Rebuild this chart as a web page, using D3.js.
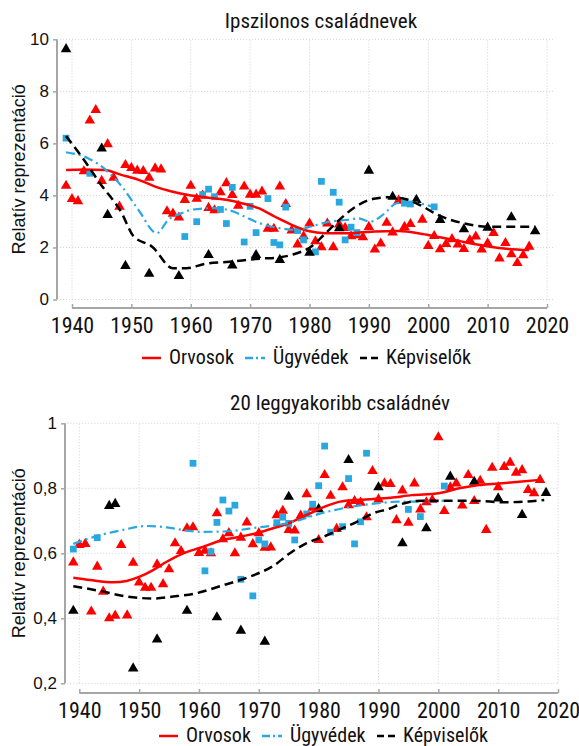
<!DOCTYPE html>
<html>
<head>
<meta charset="utf-8">
<script src="https://cdn.jsdelivr.net/npm/d3@7"></script>
<style>
  html, body { margin: 0; padding: 0; background: #fff; }
  .narrow { font-family: 'Liberation Sans Narrow', 'Arial Narrow', 'Roboto Condensed', sans-serif; }
  .wide { font-family: 'Liberation Sans', Arial, sans-serif; }
</style>
</head>
<body>
<div id="chart"></div>
<script>
// ---- data: Ipszilonos családnevek ----
const orvYearsTop = [1939,1940,1941,1942,1943,1944,1945,1946,1947,1948,1949,1950,1951,1952,1953,1954,1955,1956,1957,1958,1959,1960,1961,1962,1963,1964,1965,1966,1967,1968,1969,1970,1971,1972,1973,1974,1975,1976,1977,1978,1979,1980,1981,1982,1983,1984,1985,1986,1987,1988,1989,1990,1991,1992,1993,1994,1995,1996,1997,1999,2000,2001,2002,2003,2004,2005,2006,2007,2008,2009,2010,2011,2012,2013,2014,2015,2016,2017];
const orvValsTop = [4.37,3.86,3.78,4.93,6.88,7.28,4.56,5.97,4.68,3.57,5.17,5.06,4.95,4.94,4.68,5.04,5.00,3.39,3.30,3.15,3.83,4.37,3.87,3.99,3.52,3.43,4.12,4.47,4.02,3.60,4.34,4.03,4.03,4.15,2.72,2.72,4.34,3.67,2.65,2.12,2.43,2.92,2.24,2.01,2.92,2.01,2.88,2.75,2.43,2.47,2.39,2.79,1.92,2.15,2.95,2.58,3.80,2.79,2.90,3.07,2.06,2.44,1.93,2.13,2.32,2.12,1.94,2.28,2.42,1.92,2.16,2.56,1.58,2.17,1.74,1.40,1.70,2.03];

const ugyYearsTop = [1939,1943,1959,1961,1962,1963,1964,1965,1966,1967,1969,1970,1971,1973,1974,1975,1976,1978,1979,1981,1982,1984,1985,1986,1987,1988,1996,1997,2001];
const ugyValsTop = [6.20,4.85,2.42,2.99,4.03,4.24,3.95,3.46,2.92,4.31,2.21,3.58,2.57,3.88,2.19,2.10,3.55,2.65,2.29,1.83,4.54,4.12,3.74,2.29,2.78,2.57,3.70,3.67,3.56];

const kepYearsTop = [1939,1945,1946,1949,1953,1958,1963,1967,1971,1975,1980,1985,1990,1994,1998,2002,2006,2010,2014,2018];
const kepValsTop = [9.62,5.80,3.25,1.29,0.99,0.90,1.71,1.31,1.71,1.52,1.80,2.74,4.95,3.95,3.83,3.06,2.70,2.76,3.16,2.62];

// smoothed curves
const orvFitYearsTop = [1939,1942,1945.5,1948.3,1951.2,1954,1956.8,1959.6,1962.4,1966,1968.6,1971.4,1974.2,1977,1979.8,1982.6,1985.4,1988.2,1991,1995,1999,2002,2005,2008,2010.4,2013.2,2017];
const orvFitValsTop = [4.98,5.00,4.98,4.79,4.60,4.34,4.15,4.02,3.93,3.83,3.70,3.51,3.18,2.87,2.63,2.55,2.55,2.57,2.61,2.63,2.52,2.39,2.26,2.12,2.03,1.95,1.90];
const ugyFitYearsTop = [1939,1942.7,1946,1948.4,1951.2,1954.3,1956.2,1958.3,1960.4,1963.8,1967.2,1969.1,1971.6,1975,1977.8,1980.6,1983.4,1986.8,1988.2,1990.2,1992.5,1994.7,1997.5,1999.7,2001];
const ugyFitValsTop = [5.66,5.43,4.92,4.34,3.44,2.55,3.06,3.30,3.46,3.51,3.38,3.18,2.93,2.74,2.67,2.83,2.99,3.07,3.12,2.99,3.28,3.70,3.74,3.63,3.56];
const kepFitYearsTop = [1939,1942,1944.7,1948.4,1950.3,1953.5,1957,1959.3,1962.4,1966.5,1971.5,1975,1977.5,1980,1982.5,1985.2,1988,1990.8,1993.6,1996.3,1998.6,2002,2005.9,2009.8,2014.3,2018];
const kepFitValsTop = [6.28,5.37,4.47,3.31,2.45,2.03,1.20,1.20,1.37,1.45,1.57,1.62,1.75,1.99,2.50,3.10,3.60,3.87,3.93,3.85,3.63,3.21,2.93,2.80,2.80,2.80];

// ---- data: 20 leggyakoribb családnév ----
const orvYearsBot = [1939,1940,1941,1942,1943,1944,1945,1946,1947,1948,1949,1950,1951,1952,1953,1954,1955,1956,1957,1958,1959,1960,1961,1962,1963,1964,1965,1966,1967,1968,1969,1970,1971,1972,1973,1974,1975,1976,1977,1978,1979,1980,1981,1982,1983,1984,1985,1986,1987,1988,1989,1990,1991,1992,1993,1994,1995,1996,1997,1998,1999,2000,2001,2002,2003,2004,2005,2006,2007,2008,2009,2010,2011,2012,2013,2014,2015,2016,2017];
const orvValsBot = [0.572,0.626,0.629,0.421,0.559,0.482,0.400,0.408,0.626,0.409,0.571,0.510,0.494,0.494,0.566,0.505,0.551,0.631,0.607,0.677,0.680,0.601,0.608,0.600,0.723,0.643,0.662,0.600,0.648,0.695,0.628,0.662,0.617,0.618,0.717,0.731,0.672,0.670,0.716,0.782,0.740,0.641,0.841,0.777,0.675,0.803,0.748,0.761,0.756,0.711,0.853,0.766,0.815,0.813,0.702,0.793,0.694,0.815,0.735,0.757,0.764,0.957,0.730,0.803,0.815,0.747,0.841,0.761,0.823,0.672,0.863,0.803,0.866,0.879,0.848,0.856,0.795,0.785,0.826];

const ugyYearsBot = [1939,1943,1959,1961,1962,1963,1964,1965,1966,1967,1969,1970,1971,1973,1974,1975,1976,1978,1979,1980,1981,1982,1984,1985,1986,1987,1988,1995,1997,2001];
const ugyValsBot = [0.613,0.648,0.877,0.546,0.605,0.695,0.764,0.730,0.748,0.520,0.469,0.641,0.629,0.694,0.711,0.692,0.641,0.721,0.751,0.808,0.930,0.665,0.682,0.830,0.629,0.697,0.908,0.735,0.713,0.807];

const kepYearsBot = [1939,1945,1946,1949,1953,1958,1963,1967,1971,1975,1980,1985,1990,1994,1998,2002,2006,2010,2014,2018];
const kepValsBot = [0.423,0.746,0.752,0.246,0.335,0.423,0.403,0.362,0.328,0.774,0.736,0.887,0.803,0.631,0.677,0.836,0.820,0.769,0.718,0.786];

const orvFitYearsBot = [1939,1941.8,1945.7,1947.9,1950.1,1952.4,1954.6,1957.4,1960.2,1964,1966.9,1969.6,1972.4,1975.2,1978,1980.8,1983.6,1986.4,1989.1,1992,1995.6,2000.1,2003.5,2006.8,2010.1,2013.5,2017];
const orvFitValsBot = [0.525,0.518,0.511,0.515,0.528,0.549,0.574,0.600,0.617,0.641,0.651,0.662,0.677,0.694,0.718,0.742,0.759,0.764,0.767,0.771,0.779,0.785,0.800,0.810,0.815,0.820,0.826];
const ugyFitYearsBot = [1939,1942.9,1946.8,1951.3,1954.6,1957.9,1960.5,1964.1,1969.6,1975.2,1980.8,1986.4,1990,1993.4,1996.8,2001];
const ugyFitValsBot = [0.629,0.653,0.670,0.684,0.680,0.670,0.666,0.667,0.679,0.694,0.725,0.746,0.754,0.759,0.759,0.762];
const kepFitYearsBot = [1939,1943.5,1947.9,1952.4,1955.7,1959,1964.1,1966.9,1969.6,1972.4,1975.2,1978,1980.8,1983.6,1986.4,1989.1,1991.9,1993.4,1997.3,2001.3,2006.8,2010.7,2014.6,2017.7];
const kepFitValsBot = [0.499,0.484,0.467,0.461,0.467,0.475,0.502,0.518,0.536,0.561,0.600,0.631,0.651,0.674,0.697,0.723,0.738,0.749,0.762,0.762,0.761,0.757,0.759,0.764];

const xTicks = [1940,1950,1960,1970,1980,1990,2000,2010,2020];
const yTicksTop = [0,2,4,6,8,10];
const yTicksBot = [0.2,0.4,0.6,0.8,1];
const seriesNames = ['Orvosok', 'Ügyvédek', 'Képviselők'];

const RED = '#ff0000', BLUE = '#29a8e0', BLACK = '#000000';
const AXIS = '#a6a6a6';

const svg = d3.select('#chart').append('svg')
  .attr('width', 579)
  .attr('height', 746);

const zip = (xs, ys) => xs.map((d, i) => [d, ys[i]]);

function drawPanel(cfg) {
  const x = d3.scaleLinear().domain([1940, 2020]).range(cfg.xRange);
  const y = d3.scaleLinear().domain(cfg.yDomain).range(cfg.yRange);
  const g = svg.append('g');

  // grid
  g.selectAll('.hgrid').data(cfg.yTicks).enter().append('line')
    .attr('x1', x(cfg.gridX[0])).attr('x2', x(cfg.gridX[1]))
    .attr('y1', d => y(d)).attr('y2', d => y(d))
    .attr('stroke', '#cfcfcf').attr('stroke-width', 1).attr('stroke-dasharray', '1,2');
  g.selectAll('.vgrid').data(xTicks).enter().append('line')
    .attr('x1', d => x(d)).attr('x2', d => x(d))
    .attr('y1', y(cfg.yDomain[0])).attr('y2', y(cfg.yDomain[1]))
    .attr('stroke', '#cfcfcf').attr('stroke-width', 1).attr('stroke-dasharray', '1,2');

  // y axis
  const yAxis = g.append('g')
    .attr('transform', `translate(${cfg.yAxisX},0)`)
    .call(d3.axisLeft(y).tickValues(cfg.yTicks).tickSize(4).tickPadding(4)
      .tickFormat(d => String(d).replace('.', ',')));
  yAxis.select('.domain').attr('stroke', AXIS).attr('stroke-width', 2)
    .attr('d', `M0,${y(cfg.yDomain[0])}V${y(cfg.yDomain[1])}`);
  yAxis.selectAll('.tick line').attr('stroke', AXIS).attr('stroke-width', 1.5);
  yAxis.selectAll('.tick text').attr('class', 'wide').attr('font-size', 17).attr('fill', '#111');

  // x axis
  const xAxis = g.append('g')
    .attr('transform', `translate(0,${cfg.xAxisY})`)
    .call(d3.axisBottom(x).tickValues(xTicks).tickSize(-4).tickPadding(9).tickFormat(d3.format('d')));
  xAxis.select('.domain').attr('stroke', AXIS).attr('stroke-width', 2)
    .attr('d', `M${x(1940)},0H${x(2020)}`);
  xAxis.selectAll('.tick line').attr('stroke', AXIS).attr('stroke-width', 1.5);
  xAxis.selectAll('.tick text').attr('class', 'narrow').attr('font-size', 22).attr('fill', '#111');
  svg.selectAll('.domain').attr('fill', 'none');

  // markers
  const tri = d3.symbol(d3.symbolTriangle, 48);
  const sq = d3.symbol(d3.symbolSquare, 46);
  g.selectAll('.orv').data(zip(cfg.orv[0], cfg.orv[1])).enter().append('path')
    .attr('d', tri).attr('fill', RED)
    .attr('transform', d => `translate(${x(d[0])},${y(d[1])})`);
  g.selectAll('.ugy').data(zip(cfg.ugy[0], cfg.ugy[1])).enter().append('path')
    .attr('d', sq).attr('fill', BLUE)
    .attr('transform', d => `translate(${x(d[0])},${y(d[1])})`);
  g.selectAll('.kep').data(zip(cfg.kep[0], cfg.kep[1])).enter().append('path')
    .attr('d', tri).attr('fill', BLACK)
    .attr('transform', d => `translate(${x(d[0])},${y(d[1])})`);

  // fitted lines
  const line = d3.line().x(d => x(d[0])).y(d => y(d[1])).curve(d3.curveMonotoneX);
  g.append('path').datum(zip(cfg.orvFit[0], cfg.orvFit[1])).attr('d', line)
    .attr('fill', 'none').attr('stroke', RED).attr('stroke-width', 2.5);
  g.append('path').datum(zip(cfg.ugyFit[0], cfg.ugyFit[1])).attr('d', line)
    .attr('fill', 'none').attr('stroke', BLUE).attr('stroke-width', 2.2).attr('stroke-dasharray', '9,4,2,4');
  g.append('path').datum(zip(cfg.kepFit[0], cfg.kepFit[1])).attr('d', line)
    .attr('fill', 'none').attr('stroke', BLACK).attr('stroke-width', 2.5).attr('stroke-dasharray', '9,5');

  // title
  g.append('text').attr('class', 'narrow').attr('x', cfg.titleX).attr('y', cfg.titleY)
    .attr('text-anchor', 'middle').attr('font-size', 21).attr('fill', '#111').text(cfg.title);

  // y title
  const ymid = (cfg.yRange[0] + cfg.yRange[1]) / 2;
  g.append('text').attr('class', 'wide')
    .attr('transform', `translate(25,${ymid}) rotate(-90)`)
    .attr('text-anchor', 'middle').attr('font-size', 18).attr('fill', '#111')
    .text('Relatív reprezentáció');

  // legend
  const lx = cfg.legendX, ly = cfg.legendY;
  const items = [
    { name: seriesNames[0], color: RED, dash: null, x0: 0, w: 19 },
    { name: seriesNames[1], color: BLUE, dash: '8,3,2,3', x0: 103, w: 20 },
    { name: seriesNames[2], color: BLACK, dash: '7,4', x0: 218, w: 18 }
  ];
  items.forEach(it => {
    g.append('line').attr('x1', lx + it.x0).attr('x2', lx + it.x0 + it.w)
      .attr('y1', ly).attr('y2', ly)
      .attr('stroke', it.color).attr('stroke-width', 2.5)
      .attr('stroke-dasharray', it.dash);
    g.append('text').attr('class', 'narrow').attr('x', lx + it.x0 + it.w + 8).attr('y', ly + 6)
      .attr('font-size', 20).attr('fill', '#111').text(it.name);
  });
}

drawPanel({
  title: 'Ipszilonos családnevek', titleX: 321, titleY: 28,
  xRange: [72, 547], gridX: [1938, 2021],
  yDomain: [0, 10], yRange: [299.5, 39.3], yTicks: yTicksTop,
  yAxisX: 57, xAxisY: 308,
  orv: [orvYearsTop, orvValsTop], ugy: [ugyYearsTop, ugyValsTop], kep: [kepYearsTop, kepValsTop],
  orvFit: [orvFitYearsTop, orvFitValsTop], ugyFit: [ugyFitYearsTop, ugyFitValsTop], kepFit: [kepFitYearsTop, kepFitValsTop],
  legendX: 142, legendY: 358
});

drawPanel({
  title: '20 leggyakoribb családnév', titleX: 340, titleY: 410,
  xRange: [79.3, 558], gridX: [1938, 2020.2],
  yDomain: [0.2, 1], yRange: [683.3, 423.3], yTicks: yTicksBot,
  yAxisX: 65, xAxisY: 693,
  orv: [orvYearsBot, orvValsBot], ugy: [ugyYearsBot, ugyValsBot], kep: [kepYearsBot, kepValsBot],
  orvFit: [orvFitYearsBot, orvFitValsBot], ugyFit: [ugyFitYearsBot, ugyFitValsBot], kepFit: [kepFitYearsBot, kepFitValsBot],
  legendX: 159, legendY: 736
});
</script>
</body>
</html>
